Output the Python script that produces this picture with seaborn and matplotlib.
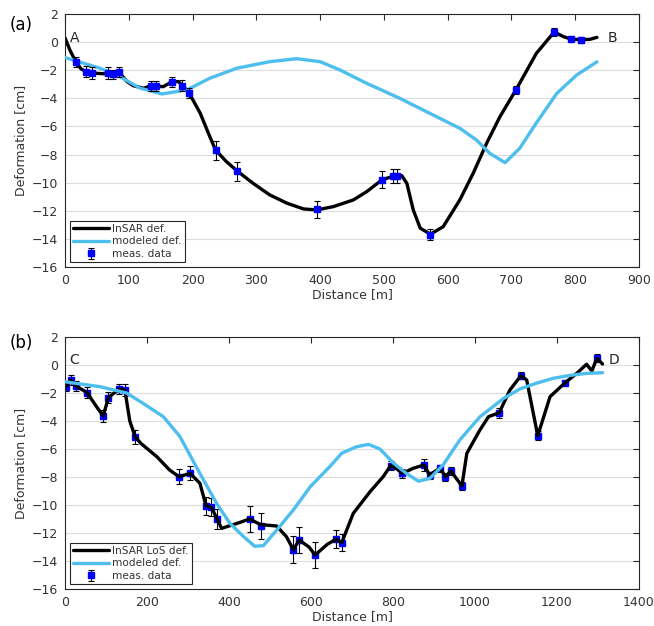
import numpy as np
import pandas as pd
import matplotlib
matplotlib.use('Agg')
import matplotlib.pyplot as plt
import seaborn as sns

# === DATA: panel (a) profile A-B ===
a_insar_x = [0, 8, 17, 25, 33, 42, 60, 76, 86, 97, 107, 123, 135, 154, 168, 178, 184, 194,
             212, 227, 236, 253, 270, 295, 321, 348, 374, 395, 421, 452, 473, 497, 517, 528,
             536, 546, 557, 573, 593, 619, 640, 661, 682, 707, 739, 767, 781, 793, 809, 823,
             834]
a_insar_y = [0.3, -0.6, -1.4, -1.9, -2.1, -2.2, -2.25, -2.3, -2.2, -2.8, -3.1, -3.28, -3.1,
             -3.17, -2.81, -2.81, -3.1, -3.57, -5.06, -6.72, -7.67, -8.5, -9.17, -10.05,
             -10.87, -11.46, -11.87, -11.94, -11.7, -11.23, -10.64, -9.8, -9.5, -9.5, -10.05,
             -11.94, -13.24, -13.67, -13.13, -11.23, -9.33, -7.2, -5.3, -3.4, -0.8, 0.72, 0.4,
             0.22, 0.17, 0.2, 0.34]

a_model_x = [0, 55, 86, 118, 152, 191, 227, 269, 321, 363, 400, 431, 473, 525, 577, 619,
             645, 666, 682, 690, 713, 739, 771, 802, 834]
a_model_y = [-1.1, -1.86, -2.46, -3.28, -3.69, -3.4, -2.57, -1.86, -1.39, -1.18, -1.39, -1.98,
             -2.93, -4.0, -5.18, -6.13, -6.96, -7.91, -8.35, -8.58, -7.55, -5.75, -3.65,
             -2.35, -1.4]

a_meas_x = [17, 33, 42, 68, 76, 85, 135, 143, 168, 184, 194, 236, 269, 395, 497, 514, 521,
            573, 707, 767, 793, 809]
a_meas_y = [-1.4, -2.1, -2.2, -2.2, -2.3, -2.15, -3.1, -3.15, -2.85, -3.1, -3.6, -7.7, -9.2,
            -11.9, -9.8, -9.5, -9.5, -13.7, -3.4, 0.72, 0.22, 0.17]
a_meas_err = [0.35, 0.4, 0.4, 0.4, 0.35, 0.35, 0.35, 0.35, 0.35, 0.4, 0.35, 0.7, 0.7, 0.6,
              0.6, 0.5, 0.5, 0.4, 0.3, 0.25, 0.15, 0.2]

# === DATA: panel (b) profile C-D ===
b_insar_x = [2, 14, 27, 54, 75, 93, 106, 132, 146, 158, 171, 185, 224, 255, 278, 305, 329,
             344, 357, 371, 382, 427, 450, 477, 516, 540, 557, 571, 595, 610, 640, 661, 675,
             703, 744, 776, 794, 808, 823, 849, 876, 889, 902, 915, 928, 941, 968, 980, 1012,
             1033, 1059, 1085, 1112, 1126, 1153, 1183, 1220, 1248, 1272, 1285, 1297, 1311]
b_insar_y = [-1.55, -1.07, -1.5, -1.98, -2.9, -3.64, -2.33, -1.71, -1.79, -4.0, -5.12, -5.6,
             -6.55, -7.5, -7.98, -7.74, -8.45, -10.05, -10.17, -11.0, -11.67, -11.24, -11.0,
             -11.4, -11.5, -12.26, -13.2, -12.5, -13.0, -13.57, -12.8, -12.45, -12.69, -10.6,
             -9.05, -7.98, -7.19, -7.4, -7.74, -7.38, -7.14, -7.86, -7.6, -7.38, -7.98, -7.57,
             -8.64, -6.31, -4.64, -3.69, -3.41, -1.79, -0.76, -1.07, -5.05, -2.26, -1.26, -0.6,
             0.05, -0.43, 0.48, 0.07]

b_model_x = [0, 85, 150, 191, 240, 280, 329, 370, 402, 435, 463, 484, 516, 557, 598, 646,
             675, 710, 740, 768, 801, 833, 862, 890, 922, 963, 1012, 1069, 1110, 1150, 1191,
             1230, 1272, 1311]
b_model_y = [-1.2, -1.55, -2.0, -2.75, -3.7, -5.1, -7.75, -9.9, -11.3, -12.25, -12.95, -12.9,
             -11.8, -10.35, -8.7, -7.25, -6.3, -5.85, -5.67, -6.0, -7.0, -7.75, -8.3, -8.1,
             -7.15, -5.35, -3.7, -2.4, -1.7, -1.3, -0.95, -0.75, -0.6, -0.55]

b_meas_x = [2, 14, 27, 54, 93, 106, 132, 146, 171, 278, 305, 344, 357, 371, 450, 477, 557,
            571, 610, 661, 675, 794, 823, 876, 889, 915, 928, 941, 968, 1059, 1112, 1153,
            1220, 1297]
b_meas_y = [-1.55, -1.07, -1.5, -1.98, -3.64, -2.33, -1.71, -1.79, -5.12, -7.98, -7.74,
            -10.05, -10.17, -11.0, -11.0, -11.5, -13.2, -12.5, -13.57, -12.45, -12.69, -7.19,
            -7.74, -7.14, -7.86, -7.38, -7.98, -7.57, -8.64, -3.41, -0.76, -5.05, -1.26, 0.48]
b_meas_err = [0.3, 0.35, 0.35, 0.4, 0.45, 0.4, 0.35, 0.4, 0.5, 0.55, 0.5, 0.65, 0.65, 0.7,
              0.95, 0.9, 0.95, 0.9, 0.9, 0.65, 0.6, 0.3, 0.3, 0.4, 0.25, 0.25, 0.3, 0.3, 0.3,
              0.35, 0.25, 0.3, 0.2, 0.3]

GRAY = '#333333'
BLACK_LINE = '#000000'
CYAN = '#4dbeee'

sns.set_theme(style="whitegrid")
plt.rcParams['font.family'] = ['DejaVu Sans']

fig = plt.figure(figsize=(6.54, 6.26), dpi=100)
ax_a = fig.add_axes([0.0994, 0.5735, 0.8777, 0.4041])
ax_b = fig.add_axes([0.0994, 0.0591, 0.8777, 0.4026])


def draw_panel(ax, ins_x, ins_y, mod_x, mod_y, mx, my, merr, ins_label, marks_below):
    df_ins = pd.DataFrame({'x': ins_x, 'y': ins_y})
    df_mod = pd.DataFrame({'x': mod_x, 'y': mod_y})
    z_m = 1.5 if marks_below else 4
    ax.errorbar(mx, my, yerr=merr, fmt='s', color='#0000ff', ms=5, mec='#0000ff',
                ecolor='black', elinewidth=0.8, capsize=2.5, capthick=0.8, zorder=z_m,
                label='meas. data')
    sns.lineplot(data=df_ins, x='x', y='y', ax=ax, color=BLACK_LINE, lw=2.4, sort=False,
                 label=ins_label, zorder=2, solid_joinstyle='round', solid_capstyle='round')
    sns.lineplot(data=df_mod, x='x', y='y', ax=ax, color=CYAN, lw=2.4, sort=False,
                 label='modeled def.', zorder=3, solid_joinstyle='round',
                 solid_capstyle='round')

    ax.set_ylim(-16, 2)
    ax.set_yticks(np.arange(-16, 3, 2))
    ax.grid(axis='x', visible=False)
    ax.grid(axis='y', color='#dcdcdc', lw=0.8)
    ax.set_facecolor('white')
    for s in ax.spines.values():
        s.set_color('#262626')
        s.set_linewidth(0.8)
    ax.tick_params(direction='in', length=4, width=0.8, colors='#262626', labelsize=9,
                   top=True, right=True, labelcolor=GRAY, pad=5)
    ax.set_ylabel('Deformation [cm]', fontsize=9, color=GRAY, labelpad=3)
    ax.set_xlabel('Distance [m]', fontsize=9, color=GRAY, labelpad=1)

    h, l = ax.get_legend_handles_labels()
    order = [l.index(ins_label), l.index('modeled def.'), l.index('meas. data')]
    leg = ax.legend([h[i] for i in order], [l[i] for i in order], loc='lower left',
                    fontsize=7.6, frameon=True, fancybox=False, framealpha=1,
                    edgecolor='#262626', borderpad=0.3, labelspacing=0.25,
                    handlelength=3.4, handletextpad=0.3, borderaxespad=0.45)
    leg.get_frame().set_linewidth(0.8)
    for t in leg.get_texts():
        t.set_color(GRAY)


draw_panel(ax_a, a_insar_x, a_insar_y, a_model_x, a_model_y, a_meas_x, a_meas_y, a_meas_err,
           'InSAR def.', False)
ax_a.set_xlim(0, 900)
ax_a.set_xticks(np.arange(0, 901, 100))
ax_a.text(8, 0.3, 'A', fontsize=10, color='#262626', va='center')
ax_a.text(851, 0.3, 'B', fontsize=10, color='#262626', va='center')

draw_panel(ax_b, b_insar_x, b_insar_y, b_model_x, b_model_y, b_meas_x, b_meas_y, b_meas_err,
           'InSAR LoS def.', True)
ax_b.set_xlim(0, 1400)
ax_b.set_xticks(np.arange(0, 1401, 200))
ax_b.text(10, 0.36, 'C', fontsize=10, color='#262626', va='center')
ax_b.text(1325, 0.36, 'D', fontsize=10, color='#262626', va='center')

fig.text(0.015, 0.96, '(a)', fontsize=12, color='black', va='center')
fig.text(0.015, 0.452, '(b)', fontsize=12, color='black', va='center')

fig.savefig('out.png', dpi=100)
